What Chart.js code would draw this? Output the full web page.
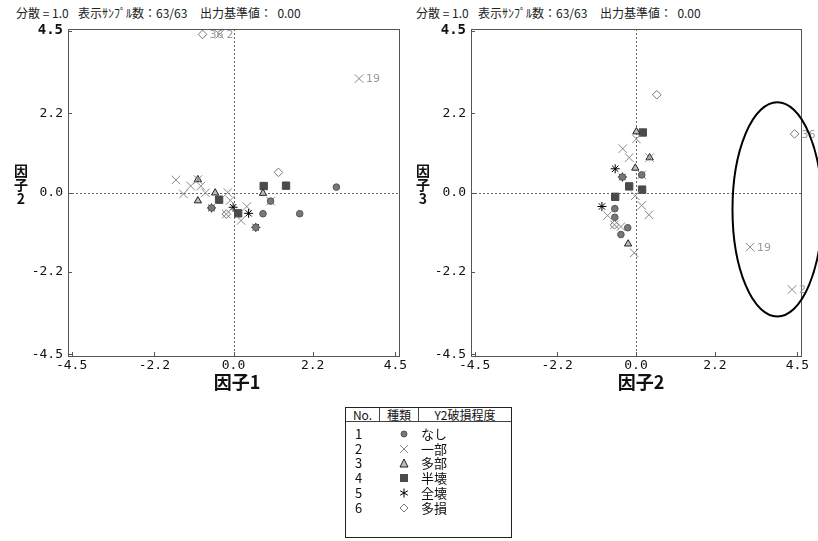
<!DOCTYPE html>
<html>
<head>
<meta charset="utf-8">
<script src="https://cdn.jsdelivr.net/npm/chart.js@4.4.1/dist/chart.umd.min.js"></script>
<style>
  body { margin: 0; width: 818px; height: 541px; background: #fff; position: relative; overflow: hidden;
         font-family: "Noto Sans CJK JP", sans-serif; color: #111; }
  canvas { position: absolute; }
  .hdr { position: absolute; top: 6px; font-size: 12px; line-height: 14px; white-space: pre; color: #222; }
  .xt { position: absolute; top: 372px; width: 80px; text-align: center; font-weight: bold; font-size: 18px; line-height: 18px; }
  .yt { position: absolute; top: 163px; width: 20px; text-align: center; font-weight: bold; font-size: 14px; line-height: 14px; }
  #legend { position: absolute; left: 345px; top: 407px; width: 165px; height: 129px; border: 1px solid #222; font-size: 13px; }
  #legend .hd { position: absolute; top: 0; height: 14px; line-height: 14px; font-size: 12px; text-align: center;
                border-right: 1px solid #444; border-bottom: 1px solid #444; box-sizing: border-box; }
  #legend .row { position: absolute; left: 0; height: 15px; line-height: 15px; width: 165px; }
  #legend .row span { position: absolute; }
</style>
</head>
<body>
<div class="hdr" style="left:16px">分散 = 1.0</div>
<div class="hdr" style="left:78px">表示ｻﾝﾌﾟﾙ数：63/63</div>
<div class="hdr" style="left:200px">出力基準値：  0.00</div>
<div class="hdr" style="left:416px">分散 = 1.0</div>
<div class="hdr" style="left:478px">表示ｻﾝﾌﾟﾙ数：63/63</div>
<div class="hdr" style="left:600px">出力基準値：  0.00</div>

<canvas id="chart12" width="410" height="400" style="left:0;top:0"></canvas>
<canvas id="chart23" width="408" height="400" style="left:410px;top:0"></canvas>

<div class="xt" style="left:197px">因子1</div>
<div class="xt" style="left:601px">因子2</div>
<div class="yt" style="left:11px">因<br>子<br>2</div>
<div class="yt" style="left:413px">因<br>子<br>3</div>

<div id="legend"></div>

<script>
const categories = ["なし", "一部", "多部", "半壊", "全壊", "多損"];
const tickValues = [-4.5, -2.2, 0, 2.2, 4.5];
const tickLabels = ["-4.5", "-2.2", "0.0", "2.2", "4.5"];

// 因子1 (x) / 因子2 (y)  -- [x, y, sample label]
const f12Nashi = [[-0.61, -0.43], [0.82, -0.59], [0.62, -0.97], [1.03, -0.24], [1.84, -0.59], [2.86, 0.15]];
const f12Ichibu = [[-1.60, 0.35], [-0.99, 0.36], [-1.19, 0.18], [-0.91, 0.18], [-1.39, -0.04], [-0.78, -0.01],
  [-0.16, 0.0], [-0.09, -0.22], [-0.20, -0.60], [0.21, -0.78], [0.37, -0.39], [1.03, -0.24],
  [-0.39, 4.40, "2"], [3.49, 3.17, "19"]];
const f12Tabu = [[-0.99, 0.36], [-0.51, -0.01], [-0.99, -0.23], [0.82, -0.02]];
const f12Hankai = [[-0.40, -0.20], [0.13, -0.58], [0.84, 0.18], [1.46, 0.19]];
const f12Zenkai = [[-0.01, -0.41], [0.42, -0.58], [0.62, -0.97], [-0.61, -0.43]];
const f12Tason = [[-0.86, 4.40, "36"], [-0.20, -0.60], [1.25, 0.56]];

// 因子2 (x) / 因子3 (y)
const f23Nashi = [[-0.38, 0.43], [0.16, 0.49], [-0.59, -0.45], [-0.59, -0.69], [-0.23, -0.98], [-0.42, -1.17]];
const f23Ichibu = [[0.01, 1.49], [-0.37, 1.22], [-0.19, 0.97], [0.38, 0.97], [0.16, 0.49], [-0.02, -0.09],
  [0.16, -0.36], [0.36, -0.62], [-0.79, -0.64], [-0.60, -0.90], [-0.42, -0.95], [-0.05, -1.68],
  [3.18, -1.52, "19"], [4.35, -2.70, "2"]];
const f23Tabu = [[0.01, 1.69], [0.38, 0.97], [-0.02, 0.68], [-0.22, -1.43]];
const f23Hankai = [[0.19, 1.67], [-0.19, 0.17], [0.17, 0.08], [-0.58, -0.12]];
const f23Zenkai = [[-0.58, 0.66], [-0.38, 0.43], [-0.95, -0.39]];
const f23Tason = [[0.58, 2.72], [-0.60, -0.90], [4.42, 1.63, "36"]];

// highlighted group on the right chart: centre x, centre y, radius x, radius y (data units)
const f23Ellipse = [3.94, -0.47, 1.25, 2.98];

const markerStyles = [
  { pointStyle: "circle", radius: 3.3, bg: "#777", border: "#555" },
  { pointStyle: "crossRot", radius: 6, bg: "#888", border: "#888" },
  { pointStyle: "triangle", radius: 4.2, bg: "#bdbdbd", border: "#222" },
  { pointStyle: "rect", radius: 5.2, bg: "#4a4a4a", border: "#4a4a4a" },
  { pointStyle: "star", radius: 4.5, bg: "#000", border: "#000" },
  { pointStyle: "rectRot", radius: 4.3, bg: "#fff", border: "#777" },
];

const tickFont = "DejaVu Sans Mono";

const framePlugin = {
  id: "frame",
  beforeDatasetsDraw(chart) {
    const { ctx, chartArea: a, scales: { x, y } } = chart;
    ctx.save();
    // zero lines
    ctx.strokeStyle = "#666";
    ctx.lineWidth = 1;
    ctx.setLineDash([2, 2]);
    const x0 = Math.round(x.getPixelForValue(0)) + 0.5;
    const y0 = Math.round(y.getPixelForValue(0)) + 0.5;
    ctx.beginPath();
    ctx.moveTo(x0, a.top); ctx.lineTo(x0, a.bottom);
    ctx.moveTo(a.left, y0); ctx.lineTo(a.right, y0);
    ctx.stroke();
    ctx.setLineDash([]);
    // box
    ctx.strokeStyle = "#555";
    ctx.strokeRect(Math.round(a.left) + 0.5, Math.round(a.top) + 0.5,
      Math.round(a.right - a.left), Math.round(a.bottom - a.top));
    // inward ticks
    ctx.beginPath();
    tickValues.forEach((v) => {
      const px = Math.round(x.getPixelForValue(v)) + 0.5;
      const py = Math.round(y.getPixelForValue(v)) + 0.5;
      ctx.moveTo(px, a.bottom); ctx.lineTo(px, a.bottom - 4);
      ctx.moveTo(a.left, py); ctx.lineTo(a.left + 4, py);
    });
    ctx.stroke();
    ctx.restore();
  },
  afterDatasetsDraw(chart, args, opts) {
    const { ctx } = chart;
    ctx.save();
    ctx.font = "11px 'DejaVu Sans'";
    ctx.fillStyle = "#9a9a9a";
    ctx.textBaseline = "middle";
    chart.data.datasets.forEach((ds, i) => {
      const meta = chart.getDatasetMeta(i);
      meta.data.forEach((el, j) => {
        const lbl = ds.data[j].label;
        if (lbl) ctx.fillText(lbl, el.x + 7, el.y + 1);
      });
    });
    if (opts.ellipse) {
      const [cx, cy, rx, ry] = opts.ellipse;
      const { x, y } = chart.scales;
      const pcx = x.getPixelForValue(cx), pcy = y.getPixelForValue(cy);
      const prx = Math.abs(x.getPixelForValue(cx + rx) - pcx);
      const pry = Math.abs(y.getPixelForValue(cy + ry) - pcy);
      ctx.strokeStyle = "#000";
      ctx.lineWidth = 2;
      ctx.beginPath();
      ctx.ellipse(pcx, pcy, prx, pry, 0, 0, Math.PI * 2);
      ctx.stroke();
    }
    ctx.restore();
  },
};

function makeDatasets(series) {
  return series.map((pts, i) => ({
    label: categories[i],
    data: pts.map((p) => ({ x: p[0], y: p[1], label: p[2] })),
    pointStyle: markerStyles[i].pointStyle,
    pointRadius: markerStyles[i].radius,
    pointHoverRadius: markerStyles[i].radius,
    backgroundColor: markerStyles[i].bg,
    borderColor: markerStyles[i].border,
    borderWidth: 1,
    showLine: false,
  }));
}

function axisTicks(scale) {
  scale.ticks = tickValues.map((v) => ({ value: v }));
}

function createChart(id, series, yWidth, padRight, ellipse) {
  return new Chart(document.getElementById(id), {
    type: "scatter",
    data: { datasets: makeDatasets(series) },
    plugins: [framePlugin],
    options: {
      responsive: false,
      animation: false,
      layout: { padding: { top: 29, right: padRight, left: 0, bottom: 0 } },
      plugins: {
        legend: { display: false },
        tooltip: { enabled: false },
        frame: { ellipse: ellipse },
      },
      scales: {
        x: {
          type: "linear", min: -4.6, max: 4.6,
          grid: { display: false, drawTicks: false }, border: { display: false },
          afterBuildTicks: axisTicks,
          afterFit: (s) => { s.height = 44; },
          ticks: {
            padding: 2, color: "#111", maxRotation: 0, autoSkip: false,
            font: { family: tickFont, size: 13 },
            callback: (v) => tickLabels[tickValues.indexOf(v)],
          },
        },
        y: {
          type: "linear", min: -4.55, max: 4.55,
          grid: { display: false, drawTicks: false }, border: { display: false },
          afterBuildTicks: axisTicks,
          afterFit: (s) => { s.width = yWidth; },
          ticks: {
            padding: 5, color: "#111", autoSkip: false,
            font: (c) => (c.index === 4 ? { family: tickFont, size: 14, weight: "bold" } : { family: tickFont, size: 13 }),
            callback: (v) => tickLabels[tickValues.indexOf(v)],
          },
        },
      },
    },
  });
}

createChart("chart12", [f12Nashi, f12Ichibu, f12Tabu, f12Hankai, f12Zenkai, f12Tason], 68, 11, null);
createChart("chart23", [f23Nashi, f23Ichibu, f23Tabu, f23Hankai, f23Zenkai, f23Tason], 61, 17, f23Ellipse);

// legend table
const markerSvg = [
  '<circle cx="6" cy="6" r="3" fill="#777" stroke="#555"/>',
  '<path d="M2 2L10 10M10 2L2 10" stroke="#888" fill="none"/>',
  '<polygon points="6,2 10,10 2,10" fill="#bdbdbd" stroke="#222"/>',
  '<rect x="2" y="2" width="8" height="8" fill="#4a4a4a"/>',
  '<path d="M6 1.5V10.5M2.2 3.8L9.8 8.2M9.8 3.8L2.2 8.2" stroke="#000" fill="none"/>',
  '<polygon points="6,2 10,6 6,10 2,6" fill="#fff" stroke="#777"/>',
];
const legend = document.getElementById("legend");
let html = '<div class="hd" style="left:0;width:34px">No.</div>' +
  '<div class="hd" style="left:34px;width:39px">種類</div>' +
  '<div class="hd" style="left:73px;width:92px;border-right:none">Y2破損程度</div>';
categories.forEach((c, i) => {
  const top = 18 + i * 14.7;
  html += '<div class="row" style="top:' + top + 'px">' +
    '<span style="left:9px">' + (i + 1) + '</span>' +
    '<svg style="position:absolute;left:52px;top:2px" width="12" height="12">' + markerSvg[i] + '</svg>' +
    '<span style="left:75px">' + c + '</span></div>';
});
legend.innerHTML = html;
</script>
</body>
</html>
